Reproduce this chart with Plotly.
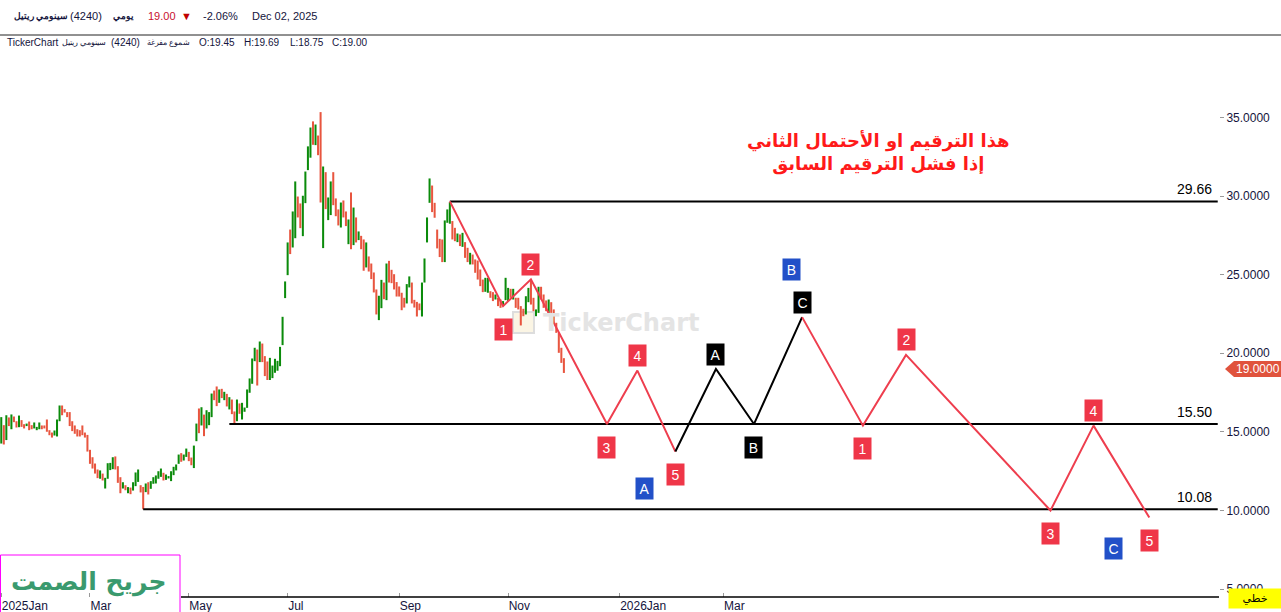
import pandas as pd
import plotly.graph_objects as go

# Tadawul trading calendar (Sun-Thu), Eid / national day closures in 2025
HOLIDAYS = ['2025-03-27', '2025-03-30', '2025-03-31', '2025-04-01', '2025-04-02',
            '2025-06-05', '2025-06-08', '2025-06-09', '2025-06-10', '2025-09-23']
FIRST_DAY = '2025-01-12'
LAST_DAY = '2026-11-29'

# daily bars, Cenomi Retail (4240)
LOW = [
    14.26, 14.20, 14.48, 15.37, 15.17, 15.62, 15.28, 15.30, 15.32, 15.22,
    15.37, 15.11, 15.17, 15.22, 15.11, 15.17, 15.17, 15.22, 15.01, 14.79,
    14.64, 14.77, 14.71, 15.68, 16.06, 16.23, 15.94, 15.37, 15.05, 14.88,
    14.71, 14.71, 14.79, 14.64, 13.75, 12.97, 12.67, 12.35, 12.06, 12.02,
    11.91, 11.40, 12.02, 12.57, 12.63, 12.61, 11.76, 11.10, 11.40, 11.29,
    11.10, 11.04, 11.27, 11.55, 11.82, 11.15, 10.08,
    11.17, 11.02, 11.38, 11.70, 11.72, 12.02, 12.14, 11.91, 11.95, 12.04,
    11.87, 12.25, 12.55, 12.97, 13.10, 13.18, 13.41, 13.14, 12.88, 12.70,
    14.41, 14.92, 15.41, 14.73, 15.22, 15.43, 15.94, 17.02, 16.64, 16.85,
    17.15, 17.02, 16.62, 16.43, 16.13, 15.49, 15.68, 16.15, 15.79, 16.28,
    16.53, 17.49, 18.06, 19.50, 17.95, 19.44, 19.44, 18.55, 18.30, 18.30,
    18.42, 18.76, 18.89, 19.18, 20.52, 23.51,
    24.97, 26.31, 26.73, 27.32, 28.64, 27.96, 27.45, 29.55, 31.65, 32.44,
    33.26, 33.24, 32.60, 29.59, 26.69, 29.17, 28.47, 28.79, 29.42, 28.72,
    28.13, 28.00, 28.64, 28.09, 26.94, 26.62, 26.88, 27.05, 27.20, 26.62,
    25.25, 25.46, 25.20, 24.72, 23.87, 22.47, 22.11, 22.87, 23.44, 23.38,
    24.50, 24.46, 24.06, 23.61, 23.61, 22.74, 22.91, 23.17, 24.19, 23.17,
    22.91, 22.34, 22.74, 22.34, 24.50, 27.05,
    29.57, 28.98, 28.62, 26.67, 26.12, 25.80, 25.80, 28.30, 28.24, 27.24,
    27.13, 27.07, 26.82, 26.77, 26.07, 25.80, 25.65, 25.65, 25.12, 24.69,
    24.27, 23.89, 23.91, 23.85, 23.53, 23.32, 23.42, 23.00, 22.89, 23.00,
    23.38, 23.32, 23.53, 23.42, 22.89, 22.79, 21.77, 22.36, 22.47, 23.25,
    23.10, 22.68, 22.36, 22.57, 23.42, 22.89, 22.68, 22.57, 22.57, 21.94,
    21.30, 20.03, 19.39, 18.75,
]
HIGH = [
    15.94, 15.43, 16.06, 15.92, 16.11, 15.98, 15.68, 16.04, 15.75, 15.49,
    15.53, 15.66, 15.43, 15.60, 15.32, 15.60, 15.41, 15.41, 15.79, 15.11,
    14.96, 15.09, 15.79, 16.68, 16.68, 16.45, 16.26, 16.26, 15.68, 15.41,
    15.17, 15.11, 15.41, 14.96, 14.81, 13.86, 13.39, 12.99, 12.61, 12.55,
    12.35, 12.08, 13.01, 13.03, 13.39, 13.44, 12.82, 12.12, 11.80, 11.61,
    11.49, 11.46, 11.80, 12.42, 12.61, 11.61, 11.50,
    11.72, 11.80, 11.87, 12.12, 12.23, 12.50, 12.67, 12.40, 12.29, 12.19,
    12.50, 12.78, 12.93, 13.56, 13.65, 13.56, 13.94, 13.73, 13.37, 14.13,
    15.53, 16.49, 16.57, 16.10, 16.38, 16.26, 17.44, 17.63, 17.89, 17.70,
    17.74, 17.55, 17.42, 17.21, 17.06, 16.30, 17.06, 16.81, 16.85, 16.55,
    17.70, 18.40, 19.67, 20.35, 20.24, 20.75, 20.62, 19.82, 19.48, 19.71,
    19.22, 19.65, 19.52, 20.41, 22.32, 24.57,
    27.05, 27.87, 29.02, 30.93, 29.97, 29.53, 30.02, 31.56, 33.16, 34.36,
    34.75, 34.55, 33.85, 35.34, 31.88, 31.52, 29.91, 30.93, 31.52, 29.85,
    29.15, 29.59, 29.72, 29.02, 28.51, 30.23, 29.27, 28.64, 27.75, 27.47,
    27.24, 27.05, 26.16, 25.71, 25.14, 24.06, 23.66, 24.67, 24.50, 25.71,
    25.88, 25.31, 25.03, 24.53, 24.25, 23.85, 23.53, 24.40, 24.89, 24.50,
    23.40, 23.27, 23.17, 24.50, 26.03, 28.64,
    31.12, 30.67, 29.57, 27.87, 27.28, 27.24, 28.45, 29.15, 29.61, 28.41,
    27.98, 27.62, 27.56, 27.66, 27.07, 26.71, 26.39, 26.28, 25.97, 25.90,
    25.33, 24.69, 24.80, 24.80, 23.95, 23.89, 23.74, 23.53, 23.42, 23.32,
    24.80, 24.16, 24.10, 24.10, 23.53, 23.53, 23.00, 22.83, 23.63, 24.16,
    24.69, 23.53, 22.79, 24.23, 24.23, 23.74, 23.36, 23.42, 23.25, 22.79,
    21.94, 21.30, 20.35, 19.69,
]
# G = up day, R = down day
DIRECTION = (
    'GRGRGRRGRR' 'GRRGGGRRRR' 'RGGGRRRRRR' 'RRRRRRRRRG' 'RGGGGRRRGR' 'GRGGGRR'
    'GRGGGGGRGG' 'GGGGRGGRRG' 'GRGRGGGRRG' 'RGRGRRGRGG' 'GGGGRGRRRG' 'GGGGGG'
    'GRGGRRGGGG' 'RGRRGRGGRR' 'RGRRGRGRGR' 'RGRRRRGGRG' 'RRRRRRRGGR' 'RRRGGG'
    'GRRRRRGGGR' 'RGRGRRGRRR' 'RRGGRRGRRG' 'GGRGRRRRGG' 'RRGGRRRGRR' 'RRRR'
)

TICK_DATES = ['2025-01-12', '2025-03-02', '2025-05-01', '2025-07-01',
              '2025-09-01', '2025-11-02', '2026-01-01', '2026-03-01']
TICK_TEXT = ['2025Jan', 'Mar', 'May', 'Jul', 'Sep', 'Nov', '2026Jan', 'Mar']
Y_TICKS = [5, 10, 15, 20, 25, 30, 35]

LEVELS = [29.66, 15.50, 10.08]
LEVEL_FROM = ['2025-09-30', '2025-05-25', '2025-04-07']

WAVE1_X = ['2025-09-30', '2025-10-29', '2025-11-13', '2025-12-25', '2026-01-12', '2026-02-02']
WAVE1_Y = [29.66, 23.0, 24.7, 15.5, 18.9, 13.75]
WAVE1_LBL = ['', '1', '2', '3', '4', '5']

ABC_X = ['2026-02-02', '2026-02-24', '2026-03-17', '2026-04-13']
ABC_Y = [13.75, 19.0, 15.5, 22.3]
ABC_LBL = ['', 'A', 'B', 'C']

WAVE2_X = ['2026-04-13', '2026-05-17', '2026-06-09', '2026-08-27', '2026-09-21', '2026-10-21']
WAVE2_Y = [22.3, 15.4, 19.9, 10.0, 15.4, 9.55]
WAVE2_LBL = ['', '1', '2', '3', '4', '5']

BLUE_X = ['2026-01-15', '2026-04-07', '2026-10-01']
BLUE_Y = [11.4, 25.3, 7.6]
BLUE_LBL = ['A', 'B', 'C']

LAST_CLOSE = 19.00

GREEN = '#0b8b0b'
RED = '#e8553f'
WAVE_RED = '#ee3e4e'
BOX_RED = '#ef3648'
BOX_BLUE = '#2250c8'
NAVY = '#14143c'
FONT = 'Liberation Sans, Arial, sans-serif'
AR_FONT = 'DejaVu Sans, Noto Sans, sans-serif'

W, H = 1281, 612
M_L, M_R, M_T, M_B = 0, 62, 36, 15
PW, PH = W - M_L - M_R, H - M_T - M_B
Y_RANGE = [4.5, 40.18]


def px_x(px):
    return (px - M_L) / PW


def px_y(py):
    return (H - M_B - py) / PH


cats = pd.bdate_range(FIRST_DAY, LAST_DAY, freq='C',
                      weekmask='Sun Mon Tue Wed Thu',
                      holidays=HOLIDAYS).strftime('%Y-%m-%d').tolist()
bar_dates = cats[:len(LOW)]

fig = go.Figure()
# register every calendar slot on the category axis
fig.add_trace(go.Scatter(x=cats, y=[None] * len(cats), mode='lines',
                         hoverinfo='skip', showlegend=False))
fig.add_trace(go.Bar(
    x=bar_dates, y=[h - l for h, l in zip(HIGH, LOW)], base=LOW,
    marker_color=[GREEN if d == 'G' else RED for d in DIRECTION],
    marker_line_width=0, width=0.8, showlegend=False, hoverinfo='skip'))

for lvl, start in zip(LEVELS, LEVEL_FROM):
    fig.add_trace(go.Scatter(x=[start, cats[-1]], y=[lvl, lvl], mode='lines',
                             line=dict(color='black', width=2),
                             showlegend=False, hoverinfo='skip'))

fig.add_trace(go.Scatter(x=WAVE1_X, y=WAVE1_Y, mode='lines',
                         line=dict(color=WAVE_RED, width=2), showlegend=False))
fig.add_trace(go.Scatter(x=ABC_X, y=ABC_Y, mode='lines',
                         line=dict(color='black', width=2), showlegend=False))
fig.add_trace(go.Scatter(x=WAVE2_X, y=WAVE2_Y, mode='lines',
                         line=dict(color=WAVE_RED, width=2), showlegend=False))

ann = []


def box(x, y, text, color, shift):
    ann.append(dict(x=x, y=y, xref='x', yref='y', text=text, showarrow=False,
                    xanchor='center', yanchor='middle',
                    yshift=shift, bgcolor=color, width=15, height=19,
                    font=dict(family=FONT, size=14, color='white')))


def note(px, py, text, size, color, anchor='left', family=FONT, **kw):
    ann.append(dict(x=px_x(px), y=px_y(py), xref='paper', yref='paper', text=text,
                    showarrow=False, xanchor=anchor, yanchor='middle',
                    font=dict(family=family, size=size, color=color), **kw))


for xs, ys, lbls, col in [(WAVE1_X, WAVE1_Y, WAVE1_LBL, BOX_RED),
                          (ABC_X, ABC_Y, ABC_LBL, 'black'),
                          (WAVE2_X, WAVE2_Y, WAVE2_LBL, BOX_RED)]:
    for i in range(1, len(xs)):
        up = ys[i] > ys[i - 1]
        box(xs[i], ys[i], lbls[i], col, 15 if up else -23)

for x, y, t in zip(BLUE_X, BLUE_Y, BLUE_LBL):
    box(x, y, t, BOX_BLUE, 0)

for lvl in LEVELS:
    ann.append(dict(x=px_x(1214), y=lvl, xref='paper', yref='y', text=f'{lvl:.2f}',
                    showarrow=False, xanchor='right', yanchor='middle', yshift=12,
                    font=dict(family=FONT, size=14, color='black')))

# note in red
note(878, 153, '<b>هذا الترقيم او الأحتمال الثاني<br>إذا فشل الترقيم السابق</b>',
     18, '#ff1a1a', anchor='center', family=AR_FONT)

# watermark
note(541, 323, '<b>TickerChart</b>', 24, '#e4e4e4', family='DejaVu Sans')

# header rows
hdr1 = [(12, '<b>سينومي ريتيل</b>', NAVY, 8.5), (68, '(4240)', NAVY, 11),
        (111, '<b>يومي</b>', NAVY, 8.5), (146, '19.00', '#c8102e', 11),
        (179, '▼', '#c00000', 11), (201, '-2.06%', NAVY, 11),
        (250, 'Dec 02, 2025', NAVY, 11)]
for x, t, c, s in hdr1:
    note(x, 16, t, s, c)
hdr2 = [(5, 'TickerChart', 10), (60, 'سينومي ريتيل', 7.5), (109, '(4240)', 10),
        (145, 'شموع مفرغة', 7.5), (197, 'O:19.45', 10), (242, 'H:19.69', 10),
        (288, 'L:18.75', 10), (330, 'C:19.00', 10)]
for x, t, s in hdr2:
    note(x, 42, t, s, NAVY)

# last price tag
ann.append(dict(x=px_x(1258), y=LAST_CLOSE, xref='paper', yref='y',
                text=f'{LAST_CLOSE:.4f}', showarrow=False,
                xanchor='center', yanchor='middle',
                font=dict(family=FONT, size=12, color='white')))
# author stamp
note(89, 582, '<b>جريح الصمت</b>', 25, '#3a9a6e', anchor='center', family=AR_FONT)
# chart type tag
note(1228, 598, 'خطي', 11, 'black', family=AR_FONT,
     bgcolor='#ffff00', width=50, height=17)

u = (Y_RANGE[1] - Y_RANGE[0]) / PH  # price units per pixel
shapes = [
    dict(type='line', xref='paper', yref='paper', x0=-0.01, x1=px_x(W + 5),
         y0=px_y(35), y1=px_y(35), line=dict(color='#222', width=1)),
    dict(type='line', xref='paper', yref='paper', x0=px_x(181), x1=1,
         y0=0, y1=0, line=dict(color='black', width=1.5)),
    dict(type='rect', xref='paper', yref='paper', x0=px_x(0.5), x1=px_x(180),
         y0=px_y(614), y1=px_y(555), line=dict(color='#ff00ff', width=1)),
    dict(type='rect', xref='paper', yref='paper', x0=px_x(513), x1=px_x(534),
         y0=px_y(333), y1=px_y(312), line=dict(color='#dddddd', width=2),
         fillcolor='#fbf5e4', layer='below'),
    dict(type='path', xref='paper', yref='y',
         path=(f'M {px_x(1225)},{LAST_CLOSE} L {px_x(1234)},{LAST_CLOSE + 8 * u} '
               f'L {px_x(1281)},{LAST_CLOSE + 8 * u} L {px_x(1281)},{LAST_CLOSE - 8 * u} '
               f'L {px_x(1234)},{LAST_CLOSE - 8 * u} Z'),
         fillcolor='#e0533d', line=dict(width=0)),
]

fig.update_layout(
    width=W, height=H,
    margin=dict(l=M_L, r=M_R, t=M_T, b=M_B),
    paper_bgcolor='white', plot_bgcolor='white',
    showlegend=False, hovermode=False,
    annotations=ann, shapes=shapes,
    xaxis=dict(type='category', categoryorder='array', categoryarray=cats,
               range=[-0.5, len(cats) - 0.5],
               tickmode='array', tickvals=TICK_DATES, ticktext=TICK_TEXT,
               ticks='inside', ticklen=4, tickcolor='#999', tickwidth=1,
               ticklabelposition='outside right', showgrid=False, showline=False,
               zeroline=False, tickfont=dict(family=FONT, size=12, color=NAVY)),
    yaxis=dict(side='right', range=Y_RANGE, tickvals=Y_TICKS, tickformat='.4f',
               ticks='outside', ticklen=4, tickcolor='#999', showgrid=False,
               showline=False, zeroline=False,
               tickfont=dict(family=FONT, size=12, color=NAVY)),
)

# page body margin would push the figure 8px off the window origin
fig.write_html('out.html', config={'displayModeBar': False},
               post_script="document.body.style.margin='0';")
